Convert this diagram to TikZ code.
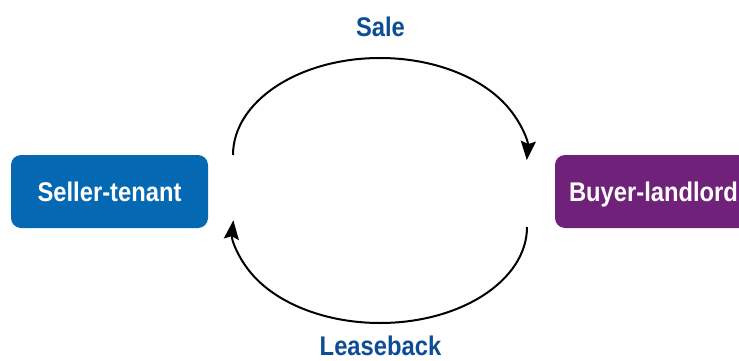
\documentclass[tikz,border=0pt]{standalone}
\usepackage{fontspec}
\setmainfont{Liberation Sans}[FakeStretch=0.88]
\usetikzlibrary{arrows.meta}
\definecolor{sellerblue}{RGB}{4,104,178}
\definecolor{buyerpurple}{RGB}{112,34,122}
\definecolor{labelblue}{RGB}{14,76,150}
\begin{document}
\begin{tikzpicture}[x=1pt,y=1pt,
  party/.style={rounded corners=10pt, minimum width=197pt, minimum height=73pt,
    text=white, font=\fontsize{27}{30}\selectfont\bfseries, text height=19.5pt, text depth=0pt},
  flowlabel/.style={text=labelblue, font=\fontsize{27}{30}\selectfont\bfseries,
    text height=19.5pt, text depth=0pt, inner sep=0pt},
  flow/.style={line width=2pt, -{Stealth[length=19pt,width=15pt,inset=3pt]}}]

	\useasboundingbox (0,0) rectangle (739,360);

  %parterne
	\node[party, fill=sellerblue] (seller) at (109.5,168.5) {Seller-tenant};
	\node[party, fill=buyerpurple] (buyer) at (653.5,168.5) {Buyer-landlord};

  %salg
	\coordinate (saleStart) at (233,205);
	\draw[flow] (saleStart) arc[start angle=180, end angle=-3, x radius=147, y radius=97];
	\node[flowlabel] (sale) at (380.5,333.5) {Sale};

  %tilbageleje
	\coordinate (leaseStart) at (527,133);
	\draw[flow] (leaseStart) arc[start angle=0, end angle=-184, x radius=147, y radius=96];
	\node[flowlabel] (lease) at (380.5,14.5) {Leaseback};

\end{tikzpicture}
\end{document}
